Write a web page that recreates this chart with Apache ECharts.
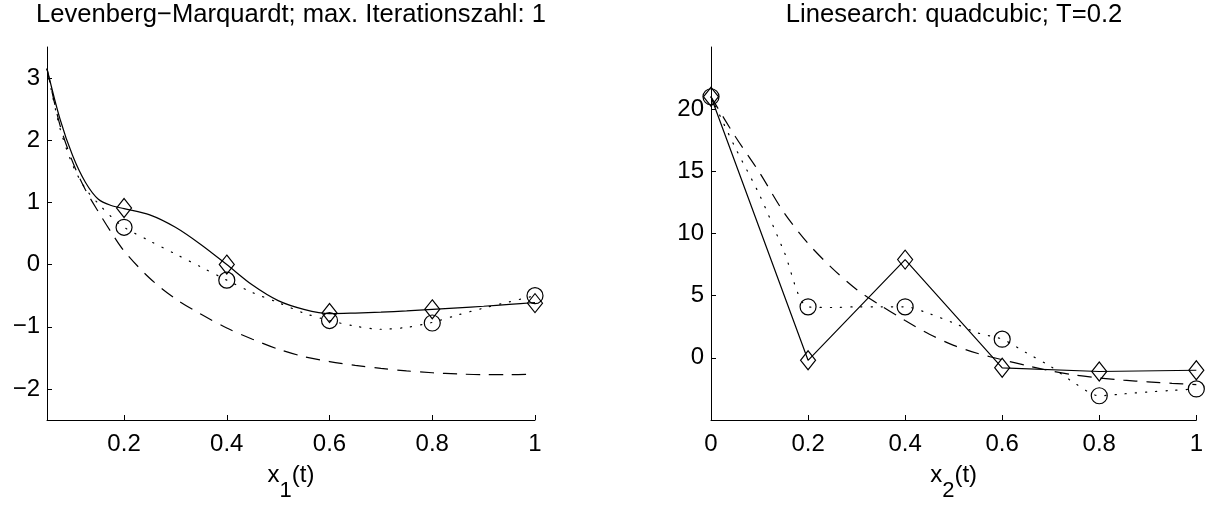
<!DOCTYPE html>
<html>
<head>
<meta charset="utf-8">
<script src="https://cdn.jsdelivr.net/npm/echarts@6/dist/echarts.min.js"></script>
<style>
  html, body { margin: 0; padding: 0; background: #fff; }
  #chart { width: 1206px; height: 507px; }
</style>
</head>
<body>
<div id="chart"></div>
<script>
// Panel titles
const titleLeft = 'Levenberg\u2212Marquardt; max. Iterationszahl: 1';
const titleRight = 'Linesearch: quadcubic; T=0.2';

// Left panel, x1(t): dense curves
const tLeft = [0.05, 0.075, 0.1, 0.125, 0.15, 0.175, 0.2, 0.25, 0.3, 0.35, 0.4, 0.45, 0.5, 0.55, 0.6, 0.65, 0.7, 0.75, 0.8, 0.85, 0.9, 0.95, 1.0];
const solidLeft  = [3.15, 2.35, 1.75, 1.32, 1.05, 0.95, 0.9, 0.8, 0.6, 0.32, 0.0, -0.33, -0.58, -0.72, -0.79, -0.78, -0.765, -0.745, -0.72, -0.695, -0.67, -0.64, -0.61];
const dottedLeft = [3.15, 2.2, 1.6, 1.22, 0.98, 0.77, 0.6, 0.38, 0.17, -0.04, -0.25, -0.45, -0.61, -0.78, -0.9, -0.99, -1.04, -1.01, -0.93, -0.81, -0.7, -0.6, -0.5];
const dashedLeft = [3.15, 2.25, 1.65, 1.2, 0.85, 0.52, 0.22, -0.22, -0.55, -0.8, -1.02, -1.2, -1.36, -1.48, -1.56, -1.62, -1.67, -1.71, -1.74, -1.76, -1.77, -1.77, -1.76];
// Left panel: markers at the grid nodes
const nodesLeft    = [0.2, 0.4, 0.6, 0.8, 1.0];
const diamondsLeft = [0.91, 0.0, -0.78, -0.72, -0.62];
const circlesLeft  = [0.6, -0.25, -0.9, -0.94, -0.5];

// Right panel, x2(t)
const tRight = [0, 0.05, 0.1, 0.15, 0.2, 0.25, 0.3, 0.35, 0.4, 0.45, 0.5, 0.55, 0.6, 0.65, 0.7, 0.75, 0.8, 0.85, 0.9, 0.95, 1.0];
const dottedRight = [21, 16.9, 13.1, 8.6, 4.1, 4.05, 4.1, 4.1, 4.1, 3.55, 2.8, 2.0, 1.5, 0.4, -0.7, -2.05, -3.05, -2.9, -2.75, -2.62, -2.5];
const dashedRight = [21, 17.8, 14.9, 11.7, 9.2, 7.2, 5.5, 4.2, 3.0, 1.9, 1.0, 0.35, -0.15, -0.62, -1.05, -1.38, -1.62, -1.8, -1.93, -2.05, -2.15];
const nodesRight    = [0, 0.2, 0.4, 0.6, 0.8, 1.0];
const diamondsRight = [21, -0.2, 7.9, -0.8, -1.1, -1.0];
const circlesRight  = [21, 4.1, 4.1, 1.5, -3.05, -2.5];

// Tick labels
const xTicksLeft  = [0.2, 0.4, 0.6, 0.8, 1];
const yTicksLeft  = [-2, -1, 0, 1, 2, 3];
const xTicksRight = [0, 0.2, 0.4, 0.6, 0.8, 1];
const yTicksRight = [0, 5, 10, 15, 20];

const FONT = '"Liberation Sans", Arial, Helvetica, sans-serif';
const INK = '#000';
const LW = 1.2;

const zip = (xs, ys) => xs.map((x, i) => [x, ys[i]]);
const fmt = v => String(v).replace('-', '\u2212');

function xAxis(grid, min, ticks, sub) {
  return {
    type: 'value', gridIndex: grid, min: min, max: 1,
    axisLine: { show: true, onZero: false, lineStyle: { color: INK, width: 1 } },
    axisTick: { show: true, inside: true, length: 5, customValues: ticks, lineStyle: { color: INK, width: 1 } },
    axisLabel: { customValues: ticks, formatter: fmt, color: INK, fontSize: 24, fontFamily: FONT, margin: 12 },
    splitLine: { show: false },
    // x with a lowered index, then (t)
    name: '{a|x}{s|' + sub + '}{a|(t)}',
    nameLocation: 'middle', nameGap: 43,
    nameTextStyle: {
      rich: {
        a: { fontSize: 24, fontFamily: FONT, color: INK, lineHeight: 26, verticalAlign: 'top' },
        s: { fontSize: 22, fontFamily: FONT, color: INK, lineHeight: 22, verticalAlign: 'top', padding: [17, 0, 0, 0] }
      }
    }
  };
}

function yAxis(grid, min, max, ticks) {
  return {
    type: 'value', gridIndex: grid, min: min, max: max,
    axisLine: { show: true, onZero: false, lineStyle: { color: INK, width: 1 } },
    axisTick: { show: true, inside: true, length: 5, customValues: ticks, lineStyle: { color: INK, width: 1 } },
    axisLabel: { customValues: ticks, formatter: fmt, color: INK, fontSize: 24, fontFamily: FONT, margin: 7 },
    splitLine: { show: false }
  };
}

function curve(idx, data, type, smooth) {
  return {
    type: 'line', xAxisIndex: idx, yAxisIndex: idx, data: data,
    smooth: smooth, showSymbol: false, symbol: 'none',
    lineStyle: { color: INK, width: LW, type: type, cap: type === DOT ? 'round' : 'butt' },
    silent: true, animation: false
  };
}

function markers(idx, data, shape, size) {
  return {
    type: 'scatter', xAxisIndex: idx, yAxisIndex: idx, data: data,
    symbol: shape, symbolSize: size,
    itemStyle: { color: 'rgba(0,0,0,0)', borderColor: INK, borderWidth: LW, opacity: 1 },
    silent: true, animation: false, clip: false
  };
}

const DOT = [1.2, 9];
const DASH = [14, 9];

const chart = echarts.init(document.getElementById('chart'), null, { renderer: 'canvas' });
chart.setOption({
  backgroundColor: '#fff',
  animation: false,
  title: [
    { text: titleLeft, left: 291, top: 2, padding: 0, textAlign: 'center',
      textStyle: { fontSize: 25.6, fontWeight: 'normal', color: INK, fontFamily: FONT } },
    { text: titleRight, left: 954, top: 2, padding: 0, textAlign: 'center',
      textStyle: { fontSize: 25.6, fontWeight: 'normal', color: INK, fontFamily: FONT } }
  ],
  grid: [
    { left: 47, top: 47, width: 488, height: 382 },
    { left: 711, top: 47, width: 486, height: 382 }
  ],
  xAxis: [xAxis(0, 0.05, xTicksLeft, '1'), xAxis(1, 0, xTicksRight, '2')],
  yAxis: [yAxis(0, -2.5, 3.5, yTicksLeft), yAxis(1, -5, 25, yTicksRight)],
  series: [
    // left panel
    curve(0, zip(tLeft, dashedLeft), DASH, 0.3),
    curve(0, zip(tLeft, dottedLeft), DOT, 0.3),
    curve(0, zip(tLeft, solidLeft), 'solid', 0.3),
    markers(0, zip(nodesLeft, circlesLeft), 'circle', 16),
    markers(0, zip(nodesLeft, diamondsLeft), 'diamond', [15, 19]),
    // right panel
    curve(1, zip(tRight, dashedRight), DASH, 0.3),
    curve(1, zip(tRight, dottedRight), DOT, 0.3),
    curve(1, zip(nodesRight, diamondsRight), 'solid', false),
    markers(1, zip(nodesRight, circlesRight), 'circle', 16),
    markers(1, zip(nodesRight, diamondsRight), 'diamond', [15, 19])
  ]
});
</script>
</body>
</html>
